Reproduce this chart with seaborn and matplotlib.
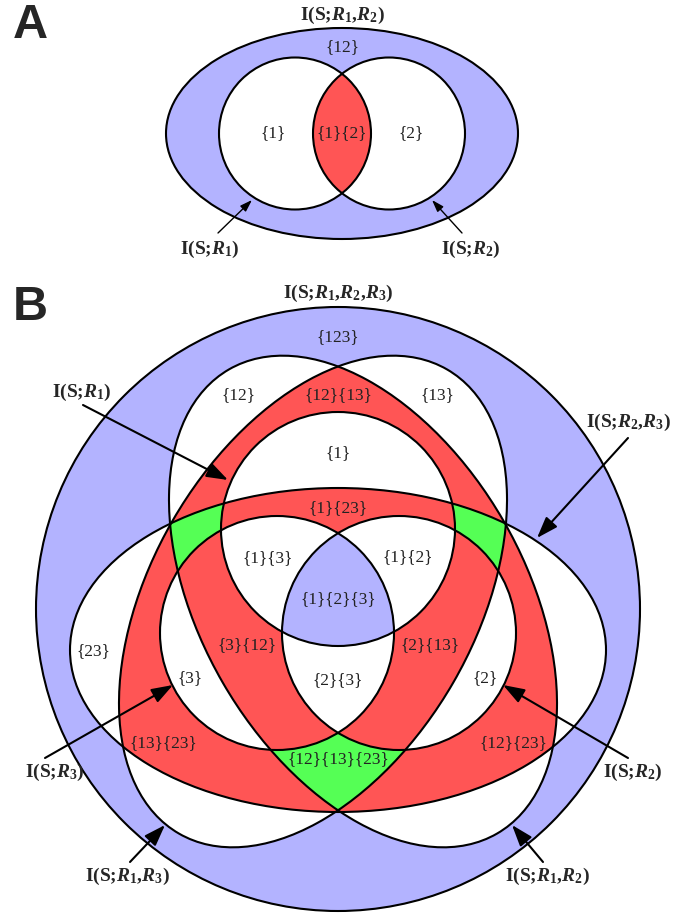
import numpy as np
import matplotlib.pyplot as plt
import seaborn as sns
from matplotlib.colors import to_rgba
from matplotlib.patches import Ellipse

sns.set_theme(style="white")
plt.rcParams['font.family'] = ['Liberation Serif', 'DejaVu Serif']
plt.rcParams['mathtext.fontset'] = 'custom'
plt.rcParams['mathtext.rm'] = 'Liberation Serif'
plt.rcParams['mathtext.it'] = 'Liberation Serif:italic'
plt.rcParams['mathtext.bf'] = 'Liberation Serif:bold'
plt.rcParams['mathtext.bfit'] = 'Liberation Serif:bold:italic'

# shapes in pixel units: centre x, centre y, half width, half height, angle
a_outer = (342, 133.5, 176, 105.5, 0)
a_circles = [(295, 133.5, 76, 76, 0), (389, 133.5, 76, 76, 0)]

b_outer = (338, 609, 302, 302, 0)
b_pairs = [(363, 601.5, 268, 162, 60),    # R1,R2
           (313, 601.5, 268, 162, -60),   # R1,R3
           (338, 650, 268, 162, 0)]       # R2,R3
b_circles = [(338, 529, 117, 117, 0), (399, 633, 117, 117, 0), (277, 633, 117, 117, 0)]

# region labels
a_labels = ['{12}', '{1}', '{1}{2}', '{2}']
a_label_xy = [(342, 47), (273, 133), (342, 133), (411, 133)]

b_labels = ['{123}', '{12}', '{12}{13}', '{13}', '{1}', '{1}{23}', '{1}{3}', '{1}{2}',
            '{1}{2}{3}', '{23}', '{3}{12}', '{2}{13}', '{3}', '{2}{3}', '{2}',
            '{13}{23}', '{12}{23}', '{12}{13}{23}']
b_label_xy = [(338, 337), (238, 395), (338, 395), (437, 395), (338, 453), (338, 508),
              (268, 558), (408, 557), (338, 599), (93, 651), (247, 645), (430, 645),
              (190, 678), (338, 680), (485, 678), (163, 743), (513, 743), (338, 759)]

# colour of each region by (number of circles, number of outer shapes)
blue, red, green, white = '#b3b3ff', '#ff5555', '#55ff55', '#ffffff'
a_colors = [blue, white, red]
b_colors = [[blue, white, red, green],
            [white, white, white, red],
            [white, white, white, white],
            [blue, blue, blue, blue]]


def inside(x, y, shape):
    cx, cy, rx, ry, ang = shape
    t = np.deg2rad(ang)
    dx, dy = x - cx, y - cy
    u = dx * np.cos(t) + dy * np.sin(t)
    v = -dx * np.sin(t) + dy * np.cos(t)
    return (u / rx) ** 2 + (v / ry) ** 2 <= 1


def outline(ax, shape, lw=1.5):
    cx, cy, rx, ry, ang = shape
    ax.add_patch(Ellipse((cx, cy), 2 * rx, 2 * ry, angle=ang, fill=False,
                         ec='black', lw=lw, zorder=3))


def info(idx):
    parts = [r'$\mathbfit{R}_\mathbf{%d}$' % i for i in idx]
    return 'I(S;' + ','.join(parts) + ')'


W, H = 696, 913
fig = plt.figure(figsize=(W / 100, H / 100), dpi=100)
ax = fig.add_axes([0, 0, 1, 1])
ax.set_xlim(0, W)
ax.set_ylim(H, 0)
ax.axis('off')

xs = np.arange(0, W, 0.5) + 0.25
ys = np.arange(0, H, 0.5) + 0.25
X, Y = np.meshgrid(xs, ys)
img = np.zeros(X.shape + (4,))

# panel A fill
in_a = inside(X, Y, a_outer)
ca = sum(inside(X, Y, s).astype(int) for s in a_circles)
for n, col in enumerate(a_colors):
    img[in_a & (ca == n)] = to_rgba(col)

# panel B fill
in_b = inside(X, Y, b_outer)
cb = sum(inside(X, Y, s).astype(int) for s in b_circles)
kb = sum(inside(X, Y, s).astype(int) for s in b_pairs)
for c in range(4):
    for k in range(4):
        img[in_b & (cb == c) & (kb == k)] = to_rgba(b_colors[c][k])

ax.imshow(img, extent=(0, W, H, 0), origin='upper', interpolation='antialiased', zorder=1)

for s in [a_outer] + a_circles + [b_outer] + b_pairs + b_circles:
    outline(ax, s)

for t, (x, y) in zip(a_labels + b_labels, a_label_xy + b_label_xy):
    ax.text(x, y, t, ha='center', va='center', fontsize=12.5, color='#222222', zorder=4)

# set names and arrows
title_kw = dict(ha='center', va='center', fontsize=14, fontweight='bold', zorder=5)
ax.text(342, 15, info([1, 2]), **title_kw)
ax.text(338, 293, info([1, 2, 3]), **title_kw)

small = dict(arrowstyle='-|>,head_length=0.9,head_width=0.3', lw=1.0, color='black',
             mutation_scale=8, shrinkA=0, shrinkB=0)
big = dict(arrowstyle='-|>,head_length=1.0,head_width=0.35', lw=1.5, color='black',
           mutation_scale=13, shrinkA=0, shrinkB=0)

a_arrows = [([1], (210, 249), (218, 233), (252, 200)),
            ([2], (471, 249), (462, 233), (432, 200))]
b_arrows = [([1], (82, 392), (83, 405), (228, 480)),
            ([2, 3], (628, 422), (628, 438), (537, 538)),
            ([3], (55, 772), (45, 758), (173, 685)),
            ([2], (633, 772), (628, 758), (503, 685)),
            ([1, 3], (127, 876), (130, 862), (165, 825)),
            ([1, 2], (547, 876), (543, 862), (512, 825))]

for idx, txt_xy, tail, tip in a_arrows:
    ax.text(*txt_xy, info(idx), **title_kw)
    ax.annotate('', xy=tip, xytext=tail, arrowprops=small, zorder=5)
for idx, txt_xy, tail, tip in b_arrows:
    ax.text(*txt_xy, info(idx), **title_kw)
    ax.annotate('', xy=tip, xytext=tail, arrowprops=big, zorder=5)

# panel letters
ax.text(30, 25, 'A', ha='center', va='center', fontsize=35, fontweight='bold',
        family='Liberation Sans', zorder=5)
ax.text(30, 307, 'B', ha='center', va='center', fontsize=35, fontweight='bold',
        family='Liberation Sans', zorder=5)

fig.savefig('out.png', dpi=100)
